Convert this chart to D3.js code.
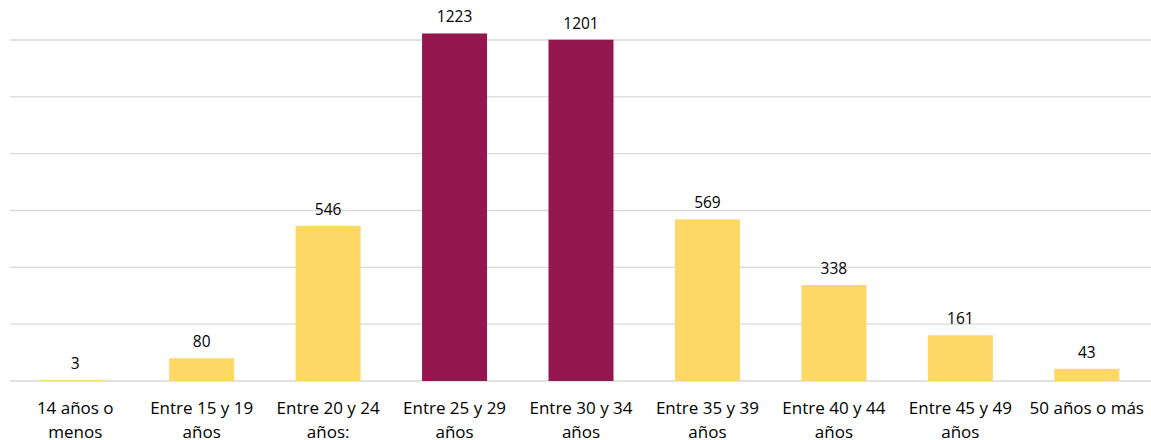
<!DOCTYPE html>
<html><head><meta charset="utf-8">
<script src="https://cdn.jsdelivr.net/npm/d3@7"></script>
<style>body{margin:0;background:#fff}svg{display:block}text{font-family:"Open Sans",sans-serif;fill:#000}</style>
</head><body><svg id="c" width="1151" height="440"></svg>
<script>
const categories = [["14 años o","menos"],["Entre 15 y 19","años"],["Entre 20 y 24","años:"],["Entre 25 y 29","años"],["Entre 30 y 34","años"],["Entre 35 y 39","años"],["Entre 40 y 44","años"],["Entre 45 y 49","años"],["50 años o más"]];
const values = [3,80,546,1223,1201,569,338,161,43];
const highlight = [false,false,false,true,true,false,false,false,false];
const gridTicks = [0,200,400,600,800,1000,1200];

const svg = d3.select("#c");
const keys = categories.map((c,i)=>i);
const x = d3.scaleBand().domain(keys).range([12,1150]).paddingInner(0.486).paddingOuter(0.243);
const y = d3.scaleLinear().domain([0,1200]).range([381,40]);

svg.append("g").selectAll("line").data(gridTicks).join("line")
  .attr("x1",10).attr("x2",1151).attr("y1",d=>y(d)).attr("y2",d=>y(d))
  .attr("stroke","#d9d9d9").attr("stroke-width",1.3);

svg.append("g").selectAll("rect").data(values).join("rect")
  .attr("x",(d,i)=>x(i)).attr("width",x.bandwidth())
  .attr("y",d=>y(d)).attr("height",d=>y(0)-y(d))
  .attr("fill",(d,i)=>highlight[i]?"#95174f":"#fdd867");

svg.append("g").selectAll("text").data(values).join("text")
  .attr("x",(d,i)=>x(i)+x.bandwidth()/2).attr("y",d=>y(d)-11)
  .attr("text-anchor","middle").attr("font-size",15.5).text(d=>d);

const lab = svg.append("g").selectAll("text").data(categories).join("text")
  .attr("text-anchor","middle").attr("font-size",17)
  .attr("transform",(d,i)=>`translate(${x(i)+x.bandwidth()/2},0)`);
lab.selectAll("tspan").data(d=>d).join("tspan")
  .attr("x",0).attr("y",(d,j)=>414+j*23.5).text(d=>d);
</script></body></html>
